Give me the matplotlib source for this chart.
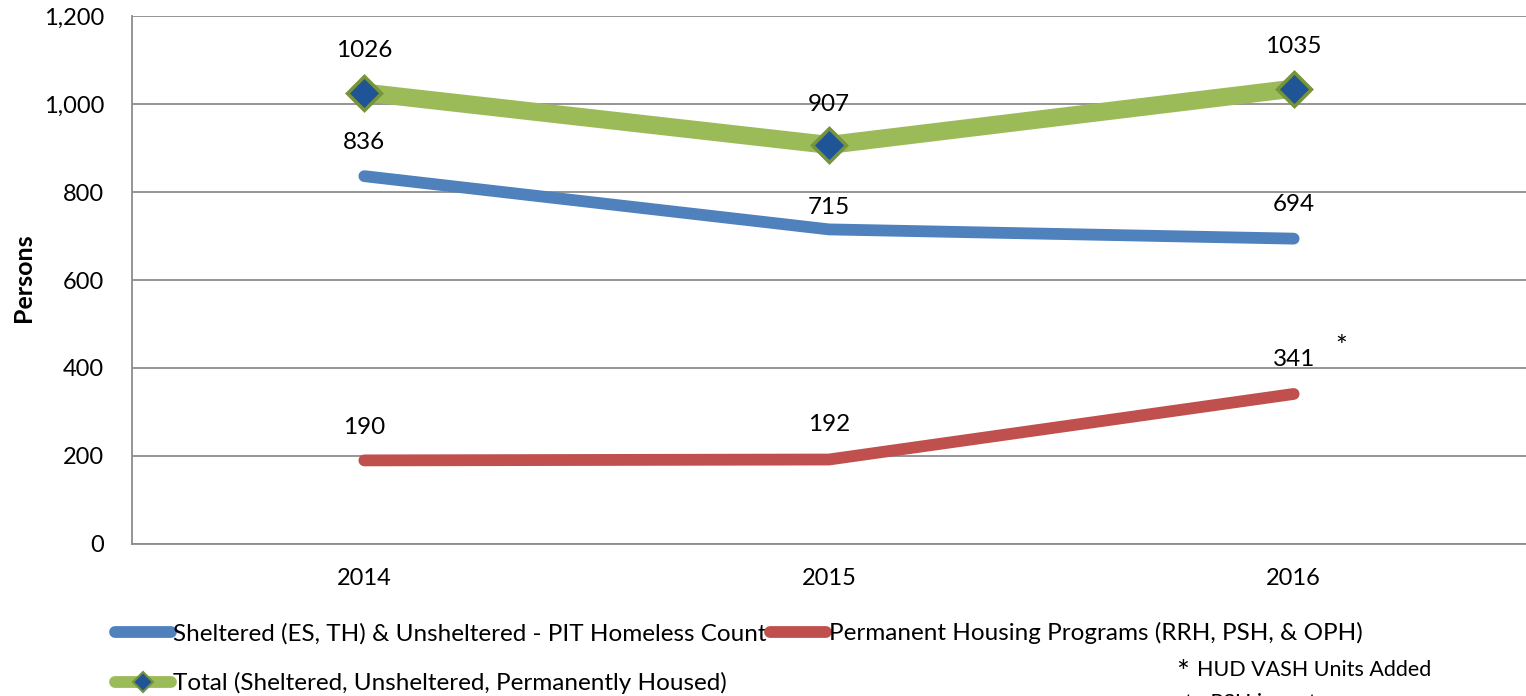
import matplotlib.pyplot as plt
from matplotlib.lines import Line2D
import numpy as np

plt.rcParams['font.family'] = ['Lato', 'DejaVu Sans']

# данные
years = ['2014', '2015', '2016']
sheltered = [836, 715, 694]
permanent = [190, 192, 341]
total = [1026, 907, 1035]

names = ['Sheltered (ES, TH) & Unsheltered - PIT Homeless Count',
         'Permanent Housing Programs (RRH, PSH, & OPH)',
         'Total (Sheltered, Unsheltered, Permanently Housed)']

# смещения подписей до центра текста (в пунктах)
off_sh = [24.5, 16, 24.5]
off_pe = [24, 25, 24.5]
off_to = [30, 29, 30]

blue = '#4F81BD'
red = '#C0504D'
green = '#9BBB59'
dia_face = '#1F5596'
dia_edge = '#77933C'

fig = plt.figure(figsize=(15.26, 6.96), dpi=100)
ax = fig.add_axes([0.0865, 0.2184, 0.9135, 0.7586])

x = np.arange(len(years))
ax.plot(x, sheltered, color=blue, lw=8.5, solid_capstyle='round', zorder=3)
ax.plot(x, permanent, color=red, lw=8.5, solid_capstyle='round', zorder=3)
ax.plot(x, total, color=green, lw=13, solid_capstyle='butt', zorder=3,
        marker='D', markersize=17, markerfacecolor=dia_face,
        markeredgecolor=dia_edge, markeredgewidth=2.5)

for series, offs in [(sheltered, off_sh), (permanent, off_pe), (total, off_to)]:
    for i, v in enumerate(series):
        ax.annotate(str(v), (x[i], v), xytext=(0, offs[i]), textcoords='offset points',
                    ha='center', va='center', fontsize=17.5, color='black')

ax.set_xlim(-0.5, 2.5)
ax.set_ylim(0, 1200)
ax.set_yticks(np.arange(0, 1201, 200))
ax.set_yticklabels([f'{v:,}' for v in range(0, 1201, 200)])
ax.set_xticks(x)
ax.set_xticklabels(years)
ax.tick_params(axis='both', length=0, labelsize=17)
ax.tick_params(axis='y', pad=20)
ax.tick_params(axis='x', pad=17)
ax.grid(axis='y', color='#8C8C8C', lw=1.3)
ax.set_axisbelow(True)
for s in ['top', 'right']:
    ax.spines[s].set_visible(False)
for s in ['left', 'bottom']:
    ax.spines[s].set_color('#8C8C8C')
    ax.spines[s].set_linewidth(1.3)

fig.text(23.5 / 1526, 1 - 278 / 696, 'Persons', fontsize=18, fontweight='bold',
         rotation=90, ha='center', va='center')

fig.text(1341 / 1526, 1 - 348 / 696, '*', fontsize=20, ha='center', va='center')
fig.text(1183 / 1526, 1 - 673 / 696, '*', fontsize=22, ha='center', va='center')
fig.text(1197 / 1526, 1 - 670 / 696, 'HUD VASH Units Added', fontsize=15.5, ha='left', va='center')
fig.text(1185 / 1526, 1 - 703 / 696, 'to PSH inventory', fontsize=15.5, ha='left', va='center')

# легенда
h1 = Line2D([], [], color=blue, lw=8.5, solid_capstyle='round')
h2 = Line2D([], [], color=red, lw=8.5, solid_capstyle='round')
h3 = Line2D([], [], color=green, lw=8.5, solid_capstyle='round', marker='D', markersize=10,
            markerfacecolor=dia_face, markeredgecolor=dia_edge, markeredgewidth=1.5)
fig.legend([h1, h3, h2], [names[0], names[2], names[1]], ncol=2,
           loc='upper left', bbox_to_anchor=(115 / 1526, 1 - 622 / 696),
           frameon=False, fontsize=17.5, handlelength=2.3, handletextpad=0.1,
           columnspacing=0.15, labelspacing=1.15, borderaxespad=0, borderpad=0)

fig.savefig('out.png', dpi=100)
